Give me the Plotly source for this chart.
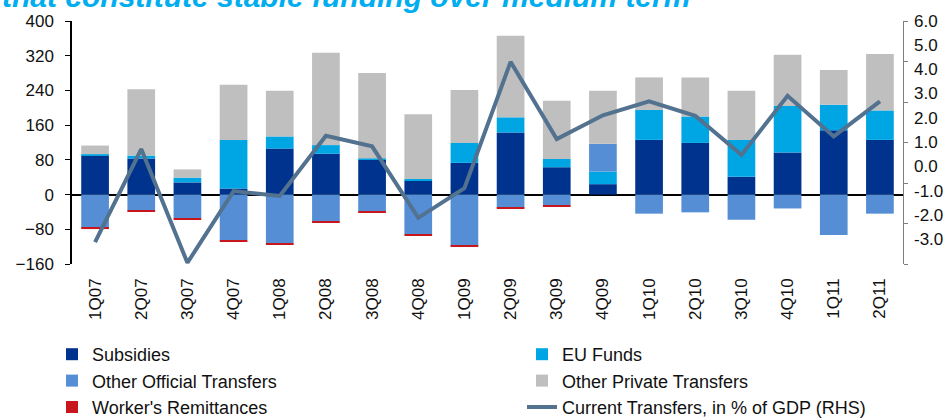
import plotly.graph_objects as go

quarters = ["1Q07", "2Q07", "3Q07", "4Q07", "1Q08", "2Q08", "3Q08", "4Q08", "1Q09",
            "2Q09", "3Q09", "4Q09", "1Q10", "2Q10", "3Q10", "4Q10", "1Q11", "2Q11"]

subsidies = [90, 83, 28, 14, 106, 94, 80, 32, 73, 143, 63, 24, 126, 119, 41, 97, 148, 126]
eu_funds = [3, 7, 11, 112, 28, 20, 3, 4, 46, 35, 19, 29, 69, 61, 85, 107, 59, 68]
other_official = [-77, -37, -54, -105, -113, -61, -39, -91, -118, -30, -24.5, 64, -44, -41, -58, -32, -93, -44]
other_private = [20, 153, 19, 127, 105, 213, 197, 149, 122, 188, 134, 122, 75, 90, 113, 118, 80, 130]
remittances = [-2.5, -3, -3, -2.5, -2.5, -2.5, -2.5, -2.5, -2.5, -2.5, -2.5, 0, 0, 0, 0, 0, 0, 0]
current_transfers_gdp = [-3.1, 0.73, -3.95, -1.0, -1.2, 1.28, 0.84, -2.1, -0.88, 4.32, 1.14, 2.12,
                         2.69, 2.1, 0.49, 2.92, 1.25, 2.69]

left_ticks = [-160, -80, 0, 80, 160, 240, 320, 400]
right_labels = [-3, -2, -1, 0, 1, 2, 3, 4, 5, 6]
right_tickmarks = [-4, -4 + 10 / 6, -4 + 20 / 6, 1, -4 + 40 / 6, -4 + 50 / 6, 6]

title_text = "that constitute stable funding over medium term"

FONT = "Liberation Sans, Arial, sans-serif"

fig = go.Figure()
series = [
    ("Subsidies", subsidies, "#00338D", "legend"),
    ("EU Funds", eu_funds, "#00A6E4", "legend2"),
    ("Other Official Transfers", other_official, "#558ED5", "legend"),
    ("Other Private Transfers", other_private, "#BFBFBF", "legend2"),
    ("Worker's Remittances", remittances, "#C8161D", "legend"),
]
for name, vals, col, lg in series:
    fig.add_trace(go.Bar(x=quarters, y=vals, name=name, legend=lg,
                         marker=dict(color=col, line=dict(width=0))))

fig.add_trace(go.Scatter(x=quarters, y=current_transfers_gdp, yaxis="y2", mode="lines",
                         name="Current Transfers, in % of GDP (RHS)", legend="legend2",
                         line=dict(color="#52728F", width=4)))

for v in right_labels:
    fig.add_annotation(x=1, xref="paper", y=v, yref="y2", text=f"{v:.1f}", showarrow=False,
                       xanchor="left", xshift=9, font=dict(family=FONT, size=17, color="#111"))

fig.add_annotation(x=-72 / 831, xref="paper", y=1.024, yref="paper", yanchor="bottom", xanchor="left",
                   text="<b><i>" + title_text + "</i></b>", showarrow=False,
                   font=dict(family=FONT, size=30, color="#00AEEF"))

legend_common = dict(orientation="v", xanchor="left", yanchor="top", yref="paper", xref="paper",
                     traceorder="normal", font=dict(family=FONT, size=18, color="#111"),
                     bgcolor="rgba(0,0,0,0)")

fig.update_layout(
    width=945, height=419,
    margin=dict(l=72, r=42, t=21, b=155, autoexpand=False),
    paper_bgcolor="white", plot_bgcolor="white",
    barmode="relative", bargap=0.4,
    font=dict(family=FONT, size=17, color="#111"),
    showlegend=True,
    legend=dict(x=(52 - 72) / 831, y=(264 - 336) / 243, **legend_common),
    legend2=dict(x=(522 - 72) / 831, y=(264 - 336) / 243, **legend_common),
    xaxis=dict(type="category", tickangle=-90, showline=False, ticks="", showgrid=False,
               ticklabelstandoff=10, tickfont=dict(size=17)),
    yaxis=dict(range=[-160, 400], tickvals=left_ticks, showgrid=False, showline=True,
               linecolor="black", linewidth=1.5, ticks="outside", ticklen=5, tickcolor="black",
               zeroline=True, zerolinecolor="black", zerolinewidth=2, ticklabelstandoff=8,
               tickfont=dict(size=17)),
    yaxis2=dict(range=[-4, 6], overlaying="y", side="right", showgrid=False, zeroline=False,
                showline=True, linecolor="#7F7F7F", linewidth=1, tickvals=right_tickmarks,
                showticklabels=False, ticks="outside", ticklen=4, tickcolor="#7F7F7F"),
)

fig.write_html("out.html", config={"displayModeBar": False},
               post_script="document.body.style.margin='0px';document.body.style.overflow='hidden';")
